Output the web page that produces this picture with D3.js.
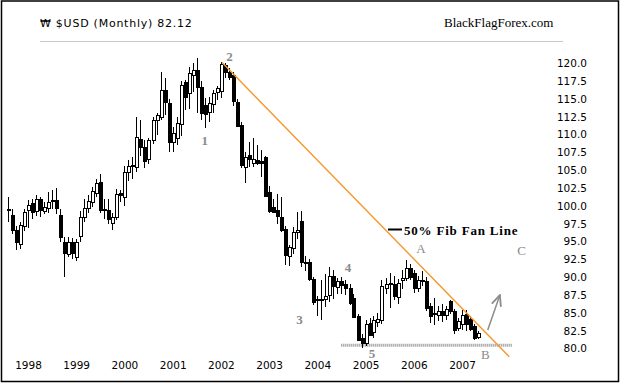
<!DOCTYPE html>
<html>
<head>
<meta charset="utf-8">
<script src="https://cdnjs.cloudflare.com/ajax/libs/d3/7.8.5/d3.min.js"></script>
<style>
  body { margin: 0; background: #fff; }
  svg { display: block; }
</style>
</head>
<body>
<div id="chart"></div>
<script>
// monthly candles, Aug 1997 .. May 2007
const startMonth = "1997-08";
const opens = [
  99.5, 98.7, 96.6, 94.6, 97.1,
  99.4, 100.4, 99.2, 100.9, 99.3, 99.6, 100.6, 100.8, 98.7, 94.9, 93.2, 94.9,
  92.9, 95.7, 98.4, 99.7, 100.6, 101.8, 103.3, 99.5, 99.4, 97.6, 98.5, 101.8,
  101.3, 104.8, 105.7, 105.5, 109.4, 108.3, 106.6, 109.2, 112.0, 112.5, 116.3, 114.4,
  109.0, 109.5, 111.6, 117.4, 115.8, 118.4, 119.1, 116.7, 114.2, 113.2, 114.3, 116.0,
  116.1, 119.8, 118.8, 118.3, 114.6, 111.3, 105.5, 107.1, 106.0, 106.4, 106.3, 106.9,
  102.0, 99.9, 99.4, 98.5, 96.7, 93.1, 94.2, 96.3, 97.9, 92.2, 92.2, 89.8,
  86.7, 86.8, 87.0, 87.4, 90.1, 88.6, 89.5, 89.0, 88.5, 87.1, 84.5, 81.5,
  80.9, 83.6, 82.3, 83.8, 84.0, 88.5, 89.2, 89.0, 87.3, 89.6, 89.9, 91.3,
  90.6, 88.5, 89.6, 89.4, 85.9, 84.8, 84.7, 85.2, 84.7, 86.6, 85.2, 82.8,
  83.5, 84.9, 84.2, 83.1, 81.5
];
const highs = [
  101.2, 99.6, 97.2, 97.8, 99.6,
  100.8, 100.9, 101.5, 101.3, 100.5, 102.0, 102.2, 102.5, 99.5, 95.6, 95.6, 95.5,
  95.4, 99.3, 101.0, 101.5, 102.7, 103.8, 104.5, 101.0, 100.9, 99.0, 102.4, 102.3,
  105.6, 106.5, 106.8, 112.5, 112.0, 109.2, 109.5, 112.5, 113.0, 118.8, 118.0, 115.0,
  111.0, 112.5, 117.5, 117.6, 119.5, 120.0, 120.7, 117.5, 115.2, 115.3, 116.2, 116.8,
  120.2, 120.0, 119.3, 118.8, 115.0, 111.8, 107.5, 109.0, 109.5, 108.5, 107.9, 107.0,
  102.8, 101.0, 101.7, 101.3, 97.2, 94.5, 97.0, 99.2, 99.3, 93.0, 92.6, 90.0,
  87.4, 89.6, 90.5, 91.5, 91.0, 89.9, 90.0, 89.6, 89.0, 87.6, 84.9, 82.0,
  84.0, 84.3, 84.6, 85.0, 89.6, 89.9, 90.6, 90.2, 89.8, 91.0, 92.4, 91.8,
  91.0, 90.2, 90.8, 90.0, 86.4, 87.1, 86.0, 86.3, 85.9, 86.8, 85.6, 84.3,
  85.4, 85.4, 84.6, 83.4, 82.4
];
const lows = [
  97.7, 96.0, 93.8, 94.0, 96.5,
  96.9, 98.2, 98.6, 98.5, 98.8, 99.0, 99.6, 98.9, 95.0, 90.0, 92.8, 92.6,
  92.3, 95.0, 97.8, 99.0, 99.8, 101.2, 99.0, 98.2, 97.5, 96.6, 98.0, 100.5,
  100.0, 103.5, 103.8, 104.7, 107.0, 105.3, 105.9, 108.7, 110.0, 112.0, 112.8, 107.6,
  107.6, 108.5, 109.8, 113.5, 113.6, 116.0, 113.0, 112.0, 110.9, 111.7, 113.0, 114.8,
  115.1, 118.0, 117.6, 114.0, 111.0, 105.3, 103.2, 105.5, 105.5, 105.7, 104.1, 101.3,
  99.0, 99.0, 97.4, 96.4, 91.7, 91.6, 93.3, 95.3, 91.5, 90.8, 89.5, 86.1,
  84.5, 84.0, 85.8, 86.5, 86.9, 87.7, 87.7, 87.5, 86.1, 84.3, 81.0, 80.1,
  80.4, 81.7, 81.5, 83.0, 83.5, 87.6, 85.7, 86.8, 86.3, 88.3, 89.4, 89.6,
  87.8, 87.9, 88.7, 85.3, 83.6, 83.3, 83.8, 83.7, 84.0, 84.8, 82.0, 82.4,
  82.6, 82.4, 82.5, 81.2, 81.3
];
const closes = [
  99.3, 96.6, 94.9, 97.3, 99.1,
  100.1, 99.2, 100.9, 99.3, 99.9, 100.5, 100.8, 99.7, 95.6, 93.4, 94.9, 93.4,
  95.0, 98.4, 99.7, 100.7, 102.1, 103.2, 99.4, 99.3, 98.2, 98.5, 101.7, 101.5,
  104.8, 105.6, 105.5, 109.7, 108.3, 106.3, 109.2, 112.0, 112.7, 116.3, 114.6, 109.0,
  110.2, 111.6, 117.0, 115.3, 118.6, 119.1, 116.7, 113.0, 113.0, 114.4, 115.8, 116.5,
  119.9, 118.8, 118.1, 114.6, 111.3, 105.7, 106.9, 106.6, 106.6, 106.0, 106.0, 101.5,
  99.4, 99.2, 98.5, 96.7, 93.1, 94.3, 96.4, 96.6, 92.2, 92.0, 89.8, 86.6,
  86.9, 87.0, 87.4, 90.1, 88.7, 89.5, 88.9, 88.5, 86.4, 84.5, 81.2, 80.8,
  83.5, 81.9, 84.0, 84.2, 88.7, 89.1, 89.0, 87.3, 89.2, 89.9, 91.3, 90.1,
  88.5, 89.6, 89.4, 85.6, 84.5, 85.0, 85.2, 84.7, 85.5, 85.2, 82.6, 83.8,
  84.7, 83.5, 82.8, 81.4, 82.12
];

const years = d3.range(1998, 2008);
const priceTicks = d3.range(80, 120.01, 2.5);

// annotations (date, value)
const waveLabels = [
  ["1", "2001-09-01", 109.2],
  ["2", "2002-03-08", 121.0],
  ["3", "2003-08-20", 84.1],
  ["4", "2004-08-21", 91.4],
  ["5", "2005-02-18", 79.3],
  ["A", "2006-02-24", 94.0],
  ["B", "2007-06-27", 79.2],
  ["C", "2008-03-28", 93.7]
];
const fanLine = [["2002-01-10", 120.1], ["2007-12-25", 78.85]];
const support = [["2004-07-01", 80.45], ["2008-01-15", 80.45]];
const arrow = [["2007-07-15", 82.6], ["2007-10-15", 87.5]];

const width = 630, height = 387;
const parseM = d3.utcParse("%Y-%m");
const parseD = d3.utcParse("%Y-%m-%d");
const t0 = parseM(startMonth);
const data = opens.map((o, i) => ({
  date: d3.utcMonth.offset(t0, i), o, h: highs[i], l: lows[i], c: closes[i]
}));

const x = d3.scaleUtc()
  .domain([Date.UTC(1998, 0, 1), Date.UTC(2007, 0, 1)])
  .range([28, 462]);
const y = d3.scaleLinear().domain([80, 120]).range([348.5, 63.3]);

const svg = d3.select("#chart").append("svg")
  .attr("width", width)
  .attr("height", height)
  .attr("viewBox", [0, 0, width, height]);

svg.append("rect").attr("width", width).attr("height", height).attr("fill", "#fff");

// frame
svg.append("rect")
  .attr("x", 1.5).attr("y", 1)
  .attr("width", 617).attr("height", 380.5)
  .attr("fill", "none").attr("stroke", "#000").attr("stroke-width", 1.5);

// header
svg.append("text")
  .attr("x", 40).attr("y", 26.5)
  .attr("font-family", "DejaVu Sans").attr("font-size", 11)
  .attr("letter-spacing", 0.75)
  .text("₩ $USD (Monthly) 82.12");
svg.append("text")
  .attr("x", 444).attr("y", 27)
  .attr("font-family", "Liberation Serif").attr("font-size", 13)
  .text("BlackFlagForex.com");
svg.append("line")
  .attr("x1", 40).attr("x2", 563).attr("y1", 41.5).attr("y2", 41.5)
  .attr("stroke", "#c8c8c8").attr("stroke-width", 1);

// axes
svg.append("g")
  .attr("transform", "translate(587,0)")
  .call(d3.axisLeft(y).tickValues(priceTicks).tickFormat(d3.format(".1f")).tickSize(0).tickPadding(0))
  .call(g => g.select(".domain").remove())
  .call(g => g.selectAll("text").attr("font-family", "DejaVu Sans").attr("font-size", 10.5).attr("fill", "#000"));

svg.append("g")
  .attr("transform", "translate(0,359)")
  .call(d3.axisBottom(x).tickValues(years.map(v => new Date(Date.UTC(v, 0, 1)))).tickFormat(d3.utcFormat("%Y")).tickSize(0).tickPadding(3))
  .call(g => g.select(".domain").remove())
  .call(g => g.selectAll("text").attr("font-family", "DejaVu Sans").attr("font-size", 10.5).attr("fill", "#000"));

// support line
svg.append("line")
  .attr("x1", x(parseD(support[0][0]))).attr("x2", x(parseD(support[1][0])))
  .attr("y1", y(support[0][1])).attr("y2", y(support[1][1]))
  .attr("stroke", "#8c8c8c").attr("stroke-width", 3).attr("stroke-dasharray", "1,1");

// candles
const px = d => Math.round(x(d.date));
const candles = svg.append("g").attr("shape-rendering", "crispEdges");
candles.selectAll("line").data(data).join("line")
  .attr("x1", d => px(d) + 0.5).attr("x2", d => px(d) + 0.5)
  .attr("y1", d => y(d.h)).attr("y2", d => y(d.l))
  .attr("stroke", "#000");
candles.selectAll("rect").data(data).join("rect")
  .attr("x", d => px(d) - 1)
  .attr("y", d => Math.round(y(Math.max(d.o, d.c))) + 0.5)
  .attr("width", 3)
  .attr("height", d => Math.max(1, Math.round(Math.abs(y(d.o) - y(d.c)))))
  .attr("fill", d => d.c >= d.o ? "#fff" : "#000")
  .attr("stroke", "#000");

// fan line
svg.append("line")
  .attr("x1", x(parseD(fanLine[0][0]))).attr("y1", y(fanLine[0][1]))
  .attr("x2", x(parseD(fanLine[1][0]))).attr("y2", y(fanLine[1][1]))
  .attr("stroke", "#f7962a").attr("stroke-width", 1.4);

// arrow
const defs = svg.append("defs");
defs.append("marker")
  .attr("id", "head").attr("viewBox", "0 0 10 10")
  .attr("refX", 9).attr("refY", 5)
  .attr("markerWidth", 8).attr("markerHeight", 8)
  .attr("orient", "auto")
  .append("path").attr("d", "M0,1L9,5L0,9")
  .attr("fill", "none").attr("stroke", "#8c8c8c").attr("stroke-width", 1.5);
svg.append("line")
  .attr("x1", x(parseD(arrow[0][0]))).attr("y1", y(arrow[0][1]))
  .attr("x2", x(parseD(arrow[1][0]))).attr("y2", y(arrow[1][1]))
  .attr("stroke", "#8c8c8c").attr("stroke-width", 1.5)
  .attr("marker-end", "url(#head)");

// wave labels
svg.append("g").selectAll("text").data(waveLabels).join("text")
  .attr("x", d => x(parseD(d[1])))
  .attr("y", d => y(d[2]))
  .attr("text-anchor", "middle")
  .attr("dominant-baseline", "central")
  .attr("font-family", "Liberation Serif")
  .attr("font-size", 13)
  .attr("font-weight", d => /\d/.test(d[0]) ? "bold" : "normal")
  .attr("fill", "#8a8a8a")
  .text(d => d[0]);

// legend
svg.append("line")
  .attr("x1", 388).attr("x2", 402).attr("y1", 229.5).attr("y2", 229.5)
  .attr("stroke", "#000").attr("stroke-width", 2);
svg.append("text")
  .attr("x", 404).attr("y", 235)
  .attr("font-family", "Liberation Serif").attr("font-size", 13).attr("font-weight", "bold")
  .attr("letter-spacing", 0.8)
  .text("50% Fib Fan Line");
</script>
</body>
</html>
